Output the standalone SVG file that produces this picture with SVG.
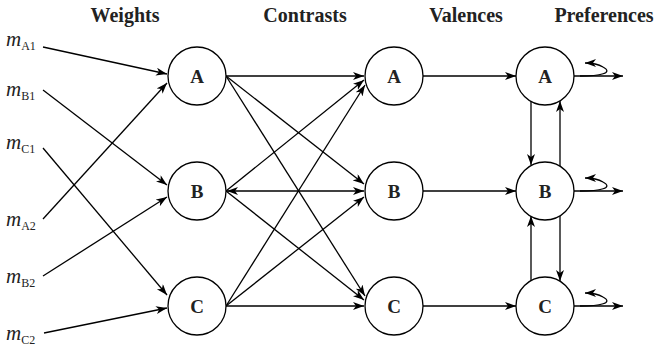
<svg xmlns="http://www.w3.org/2000/svg" width="658" height="348" viewBox="0 0 658 348">
<style>
.hdr{font-family:"Liberation Serif",serif;font-weight:bold;font-size:20px;fill:#222;text-anchor:middle}
.lbl{font-family:"Liberation Serif",serif;font-weight:bold;font-size:19px;fill:#222;text-anchor:middle}
.m{font-family:"Liberation Serif",serif;font-style:italic;font-size:21px;fill:#222}
.sub{font-style:normal;font-size:12px}
circle{fill:#fff;stroke:#000;stroke-width:1.3}
#connectors line,#connectors path{stroke:#000;stroke-width:1.3;fill:none}
.a{marker-end:url(#arr)}
</style>
<defs>
<marker id="arr" markerUnits="userSpaceOnUse" markerWidth="12" markerHeight="9" refX="11" refY="4" orient="auto-start-reverse" viewBox="0 0 12 9">
<path d="M0,0 L11,4 L0,8 L3,4 z" fill="#000"/>
</marker>
</defs>
<g id="headers">
<text class="hdr" x="125" y="22">Weights</text>
<text class="hdr" x="305" y="22">Contrasts</text>
<text class="hdr" x="466" y="22">Valences</text>
<text class="hdr" x="604" y="22">Preferences</text>
</g>
<g id="inputs">
<text class="m" x="6" y="46">m<tspan class="sub" dy="4">A1</tspan></text>
<text class="m" x="6" y="96">m<tspan class="sub" dy="4">B1</tspan></text>
<text class="m" x="6" y="149">m<tspan class="sub" dy="4">C1</tspan></text>
<text class="m" x="6" y="226">m<tspan class="sub" dy="4">A2</tspan></text>
<text class="m" x="6" y="283">m<tspan class="sub" dy="4">B2</tspan></text>
<text class="m" x="6" y="340">m<tspan class="sub" dy="4">C2</tspan></text>
</g>
<g id="connectors">
<line class="a" x1="43" y1="47" x2="167" y2="74"/>
<line class="a" x1="43" y1="90" x2="167" y2="185"/>
<line class="a" x1="43" y1="148" x2="167" y2="295"/>
<line class="a" x1="43" y1="219" x2="167" y2="83"/>
<line class="a" x1="43" y1="276" x2="167" y2="197"/>
<line class="a" x1="44" y1="333" x2="167" y2="308"/>
<line class="a" x1="226" y1="76" x2="364" y2="76"/>
<line class="a" x1="226" y1="76" x2="364" y2="184"/>
<line class="a" x1="226" y1="76" x2="365" y2="296"/>
<line class="a" x1="226" y1="191" x2="364" y2="80"/>
<line class="a" x1="227" y1="191" x2="364" y2="191" marker-start="url(#arr)"/>
<line class="a" x1="226" y1="191" x2="364" y2="300"/>
<line class="a" x1="226" y1="306" x2="365" y2="85"/>
<line class="a" x1="226" y1="306" x2="364" y2="197"/>
<line class="a" x1="226" y1="306" x2="364" y2="306"/>
<line class="a" x1="423" y1="76" x2="516" y2="76"/>
<line class="a" x1="423" y1="191" x2="516" y2="191"/>
<line class="a" x1="423" y1="306" x2="516" y2="306"/>
<line class="a" x1="574" y1="76" x2="623" y2="76"/>
<line class="a" x1="574" y1="191" x2="623" y2="191"/>
<line class="a" x1="574" y1="306" x2="623" y2="306"/>
<path class="a" d="M580,76 C600,76 614,73 603,67 C598,64 592,63 585,63"/>
<path class="a" d="M580,191 C600,191 614,188 603,182 C598,179 592,178 585,178"/>
<path class="a" d="M580,306 C600,306 614,303 603,297 C598,294 592,293 585,293"/>
<line class="a" x1="531" y1="101" x2="531" y2="165"/>
<line class="a" x1="560" y1="166" x2="560" y2="101"/>
<line class="a" x1="560" y1="216" x2="560" y2="281"/>
<line class="a" x1="531" y1="281" x2="531" y2="216"/>
</g>
<g id="contrast-A"><circle cx="197" cy="76" r="29"/><text class="lbl" x="197" y="83">A</text></g>
<g id="contrast-B"><circle cx="197" cy="191" r="29"/><text class="lbl" x="197" y="198">B</text></g>
<g id="contrast-C"><circle cx="197" cy="306" r="29"/><text class="lbl" x="197" y="313">C</text></g>
<g id="valence-A"><circle cx="394" cy="76" r="29"/><text class="lbl" x="394" y="83">A</text></g>
<g id="valence-B"><circle cx="394" cy="191" r="29"/><text class="lbl" x="394" y="198">B</text></g>
<g id="valence-C"><circle cx="394" cy="306" r="29"/><text class="lbl" x="394" y="313">C</text></g>
<g id="pref-A"><circle cx="545" cy="76" r="29"/><text class="lbl" x="545" y="83">A</text></g>
<g id="pref-B"><circle cx="545" cy="191" r="29"/><text class="lbl" x="545" y="198">B</text></g>
<g id="pref-C"><circle cx="545" cy="306" r="29"/><text class="lbl" x="545" y="313">C</text></g>
</svg>
